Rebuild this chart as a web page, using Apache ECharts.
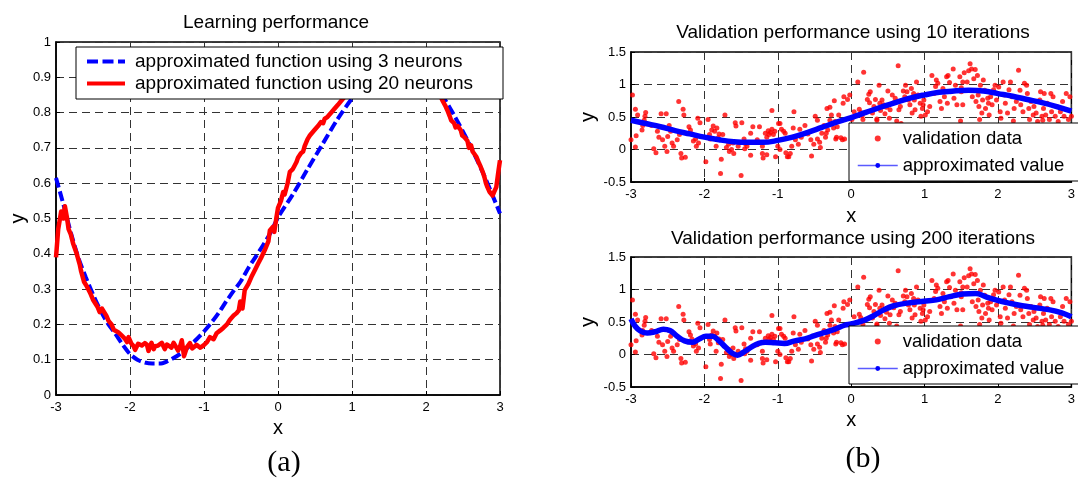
<!DOCTYPE html>
<html><head><meta charset="utf-8">
<script src="https://cdn.jsdelivr.net/npm/echarts@6/dist/echarts.min.js"></script>
<style>html,body{margin:0;padding:0;background:#fff}#c{width:1078px;height:479px}</style>
</head><body><div id="c"></div>
<script>
// ---------- data ----------
const xTicks = [-3, -2, -1, 0, 1, 2, 3];
const titles = ['Learning performance', 'Validation performance using 10 iterations', 'Validation performance using 200 iterations'];
const captions = ['(a)', '(b)'];

// (a) approximated function using 3 neurons
const neurons3X = [-3,-2.9,-2.8,-2.7,-2.6,-2.5,-2.4,-2.3,-2.2,-2.1,-2.0,-1.9,-1.8,-1.7,-1.6,-1.5,-1.4,-1.3,-1.2,-1.1,-1.0,-0.9,-0.8,-0.7,-0.6,-0.5,-0.4,-0.3,-0.2,-0.1,0,0.2,0.4,0.6,0.8,1.0,1.2,1.4,1.6,1.8,2.0,2.2,2.4,2.6,2.8,3.0];
const neurons3Y = [0.615,0.54,0.46,0.39,0.335,0.285,0.24,0.203,0.174,0.143,0.116,0.1,0.092,0.089,0.089,0.095,0.106,0.12,0.138,0.158,0.18,0.205,0.233,0.265,0.295,0.323,0.36,0.392,0.425,0.46,0.503,0.568,0.64,0.71,0.78,0.84,0.89,0.925,0.94,0.935,0.905,0.855,0.785,0.705,0.615,0.514];

// (a) approximated function using 20 neurons
const neurons20X = [-3.00,-2.97,-2.93,-2.90,-2.88,-2.85,-2.83,-2.80,-2.77,-2.72,-2.68,-2.66,-2.64,-2.62,-2.59,-2.54,-2.50,-2.44,-2.41,-2.38,-2.36,-2.32,-2.29,-2.25,-2.22,-2.20,-2.16,-2.11,-2.07,-2.04,-2.02,-1.98,-1.95,-1.93,-1.89,-1.84,-1.80,-1.77,-1.75,-1.71,-1.68,-1.66,-1.62,-1.57,-1.53,-1.50,-1.48,-1.44,-1.41,-1.39,-1.35,-1.32,-1.30,-1.27,-1.23,-1.19,-1.16,-1.14,-1.10,-1.05,-1.01,-0.96,-0.92,-0.87,-0.83,-0.78,-0.74,-0.69,-0.65,-0.60,-0.56,-0.53,-0.51,-0.48,-0.45,-0.40,-0.36,-0.31,-0.27,-0.22,-0.18,-0.13,-0.11,-0.07,-0.05,-0.02,0.00,0.04,0.07,0.09,0.13,0.16,0.18,0.20,0.22,0.25,0.27,0.31,0.34,0.36,0.40,0.43,0.45,0.49,0.54,0.58,0.61,0.63,0.67,0.72,0.76,0.81,0.88,1.0,1.2,1.4,1.6,1.8,2.0,2.15,2.22,2.26,2.29,2.32,2.34,2.38,2.40,2.43,2.47,2.49,2.52,2.56,2.58,2.61,2.63,2.65,2.68,2.70,2.72,2.74,2.77,2.79,2.81,2.83,2.86,2.88,2.90,2.92,2.95,2.97,2.98,3.00];
const neurons20Y = [0.39,0.47,0.52,0.50,0.535,0.50,0.47,0.455,0.43,0.40,0.37,0.35,0.355,0.32,0.31,0.29,0.27,0.25,0.235,0.245,0.24,0.225,0.21,0.20,0.185,0.19,0.178,0.168,0.16,0.15,0.164,0.145,0.138,0.128,0.145,0.14,0.147,0.142,0.125,0.148,0.13,0.138,0.14,0.148,0.13,0.143,0.14,0.134,0.148,0.152,0.126,0.14,0.155,0.11,0.136,0.147,0.132,0.128,0.142,0.134,0.14,0.15,0.164,0.158,0.175,0.183,0.19,0.2,0.213,0.225,0.232,0.24,0.265,0.245,0.297,0.315,0.334,0.355,0.372,0.392,0.41,0.435,0.466,0.476,0.462,0.505,0.53,0.55,0.575,0.568,0.60,0.632,0.627,0.64,0.648,0.66,0.672,0.685,0.69,0.705,0.725,0.735,0.74,0.75,0.762,0.773,0.77,0.782,0.788,0.80,0.81,0.822,0.84,0.87,0.92,0.95,0.96,0.95,0.91,0.87,0.835,0.82,0.806,0.79,0.778,0.77,0.758,0.762,0.75,0.735,0.73,0.72,0.70,0.707,0.69,0.69,0.675,0.67,0.655,0.646,0.63,0.617,0.60,0.589,0.575,0.57,0.565,0.575,0.589,0.62,0.636,0.665];

// (b) validation data (same in both panels)
const validationData = [
[-2.98,0.84],[-2.94,0.62],[-2.91,0.53],[-3.0,0.15],[-2.93,0.21],[-2.94,0.04],[-2.85,0.30],[-2.84,0.37],[-2.82,0.45],[-2.80,0.57],[-2.81,0.51],[-2.69,0.01],[-2.66,-0.05],[-2.72,0.37],[-2.64,0.28],[-2.59,0.55],[-2.52,0.55],[-2.62,0.19],[-2.57,0.15],[-2.54,0.05],[-2.51,-0.03],[-2.48,0.37],[-2.46,0.28],[-2.50,0.20],[-2.44,0.10],[-2.42,0.05],[-2.37,0.15],[-2.35,0.74],[-2.34,0.23],[-2.32,-0.06],[-2.31,-0.13],[-2.29,0.62],[-2.28,0.53],[-2.26,-0.12],[-2.21,0.35],[-2.19,0.30],[-2.17,0.24],[-2.15,0.13],[-2.11,0.05],[-2.09,0.48],[-2.08,0.10],[-2.12,0.16],[-2.06,0.41],[-1.98,-0.19],[-1.95,0.46],[-1.93,0.23],[-1.92,0.16],[-1.90,0.30],[-1.88,0.36],[-1.86,0.28],[-1.83,0.33],[-1.84,0.05],[-1.81,0.18],[-1.80,0.24],[-1.78,-0.37],[-1.77,-0.15],[-1.75,0.23],[-1.72,0.53],[-1.70,0.03],[-1.67,0.08],[-1.66,-0.03],[-1.63,0.0],[-1.61,0.10],[-1.60,-0.06],[-1.58,0.41],[-1.57,0.36],[-1.54,0.05],[-1.50,-0.40],[-1.49,0.41],
[-1.46,0.16],[-1.44,0.09],[-1.42,0.05],[-1.37,0.25],[-1.45,0.01],[-1.37,-0.09],[-1.34,0.35],[-1.28,0.15],[-1.25,0.35],[-1.21,0.05],[-1.21,-0.06],[-1.20,-0.13],[-1.17,0.25],[-1.15,0.19],[-1.13,0.29],[-1.12,0.23],[-1.10,0.26],[-1.08,0.60],[-1.08,0.31],[-1.06,0.23],[-1.04,0.28],[-1.15,-0.08],[-1.03,-0.11],[-0.99,0.40],[-0.97,0.40],[-1.0,0.05],[-0.97,0.0],[-0.95,0.31],[-0.92,0.28],[-0.90,0.25],[-0.89,-0.05],[-0.87,-0.11],[-0.85,-0.11],[-0.83,-0.06],[-0.81,0.05],[-0.79,0.33],[-0.78,0.58],[-0.76,0.15],[-0.72,0.08],[-0.70,0.31],[-0.68,0.19],[-0.63,0.37],[-0.59,0.24],[-0.55,0.15],[-0.54,-0.10],[-0.51,0.08],[-0.49,0.51],[-0.46,0.45],[-0.46,0.16],[-0.43,0.11],[-0.42,0.03],[-0.40,0.25],[-0.37,0.37],[-0.35,0.19],[-0.34,0.25],[-0.33,0.63],[-0.32,0.30],[-0.29,0.65],[-0.29,0.45],[-0.27,0.53],[-0.24,0.33],[-0.23,0.75],[-0.22,0.43],[-0.21,0.16],[-0.20,0.19],[-0.19,0.35],[-0.17,0.53],[-0.14,0.18],[-0.12,0.15],[-0.11,0.71],[-0.10,0.81],[-0.09,0.16],[-0.05,0.77],[-0.02,0.84],
[0.01,0.46],[0.04,0.58],[0.09,1.04],[0.11,0.62],[0.13,0.57],[0.15,0.52],[0.17,1.19],[0.16,0.46],[0.22,0.77],[0.24,0.85],[0.26,0.89],[0.25,0.72],[0.29,0.56],[0.31,0.66],[0.33,0.77],[0.35,0.47],[0.38,0.99],[0.39,0.71],[0.40,0.60],[0.42,0.76],[0.44,0.69],[0.46,0.55],[0.48,0.65],[0.50,0.90],[0.52,0.48],[0.53,0.61],[0.56,0.84],[0.58,0.72],[0.60,0.79],[0.64,1.29],[0.65,0.61],[0.67,0.66],[0.68,0.40],[0.71,0.90],[0.73,0.81],[0.74,0.99],[0.76,0.89],[0.78,0.76],[0.80,0.69],[0.82,0.94],[0.83,0.56],[0.85,0.86],[0.86,0.76],[0.87,0.61],[0.89,1.04],[0.91,0.84],[0.94,0.71],[0.95,0.51],[0.97,0.63],[0.98,0.69],[0.99,0.76],[1.01,0.53],[1.04,0.58],[1.07,0.66],[1.10,1.14],[1.13,0.86],[1.15,0.97],[1.16,1.07],[1.18,1.02],[1.21,0.74],[1.23,0.63],[1.25,0.94],[1.27,0.81],[1.30,1.12],[1.31,0.71],[1.32,1.14],[1.34,1.03],[1.36,0.89],[1.39,1.24],[1.40,0.79],[1.42,0.99],[1.44,0.69],[1.48,1.12],[1.50,0.89],[1.52,1.04],
[1.50,0.95],[1.52,0.69],[1.54,1.18],[1.58,1.04],[1.60,1.21],[1.62,1.32],[1.64,1.24],[1.65,0.81],[1.67,1.09],[1.69,1.23],[1.70,0.74],[1.72,1.14],[1.73,0.84],[1.74,0.66],[1.76,0.99],[1.78,0.56],[1.79,0.76],[1.80,1.07],[1.82,0.91],[1.83,0.63],[1.86,0.79],[1.87,0.71],[1.88,0.53],[1.90,0.81],[1.92,0.69],[1.94,0.92],[1.96,0.99],[1.98,0.76],[2.01,0.96],[2.03,0.58],[2.04,0.48],[2.07,1.04],[2.09,0.84],[2.10,0.71],[2.13,0.56],[2.15,0.92],[2.17,1.04],[2.19,0.81],[2.22,0.63],[2.25,0.74],[2.28,1.22],[2.30,0.91],[2.31,0.69],[2.34,0.58],[2.36,1.02],[2.39,0.99],[2.40,0.86],[2.42,0.63],[2.43,0.46],[2.45,0.74],[2.48,0.53],[2.49,0.66],[2.52,0.56],[2.54,0.43],[2.57,0.76],[2.58,0.89],[2.60,0.51],[2.62,0.63],[2.63,0.86],[2.65,0.53],[2.67,0.71],[2.70,0.46],[2.72,0.86],[2.73,0.58],[2.75,0.81],[2.78,0.51],[2.80,0.66],[2.82,0.43],[2.85,0.58],[2.88,0.74],[2.90,0.51],[2.93,0.86],[2.96,0.46],[2.98,0.81],[3.0,0.51],
[0.35,0.45],[0.62,0.44],[1.49,0.44],[1.75,0.46],[2.21,0.44],[2.61,0.45]
];

// (b) approximated value, 10 iterations
const iter10X = [-3,-2.8,-2.6,-2.4,-2.2,-2.0,-1.8,-1.6,-1.4,-1.2,-1.0,-0.8,-0.6,-0.4,-0.2,0,0.2,0.4,0.6,0.8,1.0,1.2,1.4,1.6,1.8,2.0,2.2,2.4,2.6,2.8,3.0];
const iter10Y = [0.45,0.40,0.35,0.29,0.24,0.19,0.15,0.12,0.11,0.11,0.14,0.19,0.26,0.34,0.42,0.49,0.57,0.65,0.72,0.79,0.84,0.88,0.90,0.91,0.90,0.86,0.82,0.77,0.72,0.66,0.59];

// (b) approximated value, 200 iterations
const iter200X = [-3,-2.94,-2.87,-2.78,-2.67,-2.56,-2.47,-2.38,-2.27,-2.16,-2.07,-1.98,-1.89,-1.80,-1.71,-1.62,-1.55,-1.46,-1.35,-1.26,-1.17,-1.04,-0.91,-0.77,-0.63,-0.50,-0.36,-0.22,-0.09,0,0.18,0.31,0.45,0.58,0.76,0.99,1.16,1.34,1.52,1.70,1.83,1.97,2.15,2.33,2.51,2.69,2.87,3.0];
const iter200Y = [0.55,0.43,0.36,0.33,0.35,0.39,0.37,0.29,0.21,0.19,0.24,0.28,0.28,0.21,0.11,0.02,-0.01,0.04,0.12,0.17,0.19,0.18,0.17,0.21,0.24,0.29,0.34,0.39,0.45,0.47,0.53,0.60,0.69,0.75,0.79,0.82,0.84,0.89,0.93,0.94,0.89,0.84,0.79,0.75,0.72,0.69,0.64,0.58];

// ---------- chart ----------
const FONT = '"Liberation Sans", Arial, sans-serif';
const SERIF = '"Liberation Serif", "Times New Roman", serif';
const zip = (xs, ys) => xs.map((x, i) => [x, ys[i]]);
const GRIDLINE = { color: '#333', type: [8, 5], width: 1 };

function xAxis(gi, gap) {
  return {
    type: 'value', gridIndex: gi, min: xTicks[0], max: xTicks[xTicks.length - 1], interval: 1,
    name: 'x', nameLocation: 'middle', nameGap: gap,
    nameTextStyle: { fontFamily: FONT, fontSize: 20, color: '#000' },
    axisLine: { show: true, onZero: false, lineStyle: { color: '#000', width: 1.5 } },
    axisTick: { show: true, inside: true, length: 4, lineStyle: { color: '#000' } },
    axisLabel: { color: '#000', fontFamily: FONT, fontSize: 13, margin: 6, showMinLabel: true, showMaxLabel: true },
    splitLine: { show: true, lineStyle: GRIDLINE }
  };
}
function yAxis(gi, min, max, interval, gap) {
  return {
    type: 'value', gridIndex: gi, min, max, interval,
    name: 'y', nameLocation: 'middle', nameGap: gap, nameRotate: 90,
    nameTextStyle: { fontFamily: FONT, fontSize: 20, color: '#000' },
    axisLine: { show: true, onZero: false, lineStyle: { color: '#000', width: 1.5 } },
    axisTick: { show: true, inside: true, length: 4, lineStyle: { color: '#000' } },
    axisLabel: { color: '#000', fontFamily: FONT, fontSize: 13, margin: 5, showMinLabel: true, showMaxLabel: true },
    splitLine: { show: true, lineStyle: GRIDLINE }
  };
}
const gridBase = { show: true, borderColor: '#000', borderWidth: 1.5, backgroundColor: '#fff', containLabel: false };
const dashIcon = 'path://M0,0h11v4h-11z M15.5,0h11v4h-11z M31,0h7v4h-7z';

function rightLegend(top) {
  return {
    data: ['validation data', 'approximated value'],
    orient: 'vertical', left: 849, top: top,
    itemWidth: 40, itemHeight: 6, itemGap: 8,
    padding: [6, 40, 6, 8],
    backgroundColor: '#fff', borderColor: '#000', borderWidth: 1, borderRadius: 0,
    lineStyle: { width: 1.5, color: '#5a5aff' },
    textStyle: { fontFamily: FONT, fontSize: 18.5, color: '#000' },
    selectedMode: false
  };
}
function title(text, x, y, size, fam) {
  return { text, left: x, top: y, textAlign: 'center', textVerticalAlign: 'middle', padding: 0,
           textStyle: { fontFamily: fam, fontSize: size, fontWeight: 'normal', color: '#000' } };
}

const option = {
  backgroundColor: '#fff',
  animation: false,
  title: [
    title(titles[0], 276, 23, 19, FONT),
    title(titles[1], 853, 33, 19, FONT),
    title(titles[2], 853, 239, 19, FONT),
    title(captions[0], 284, 463, 30, SERIF),
    title(captions[1], 863, 459, 30, SERIF)
  ],
  grid: [
    Object.assign({ left: 56, top: 42, width: 444, height: 353 }, gridBase),
    Object.assign({ left: 631, top: 52, width: 446, height: 130 }, gridBase),
    Object.assign({ left: 631, top: 257, width: 446, height: 130 }, gridBase)
  ],
  xAxis: [xAxis(0, 12), xAxis(1, 24), xAxis(2, 23)],
  yAxis: [yAxis(0, 0, 1, 0.1, 28), yAxis(1, -0.5, 1.5, 0.5, 33), yAxis(2, -0.5, 1.5, 0.5, 33)],
  legend: [
    {
      data: [
        { name: 'approximated function using 3 neurons', icon: dashIcon },
        { name: 'approximated function using 20 neurons', icon: 'rect' }
      ],
      orient: 'vertical', left: 76, top: 47,
      itemWidth: 38, itemHeight: 4, itemGap: 3,
      padding: [5, 30, 6, 11],
      backgroundColor: '#fff', borderColor: '#000', borderWidth: 1, borderRadius: 0,
      textStyle: { fontFamily: FONT, fontSize: 19, color: '#000', padding: [0, 0, 0, 5] },
      selectedMode: false
    },
    rightLegend(123),
    rightLegend(326)
  ],
  series: [
    { name: 'approximated function using 3 neurons', type: 'line', xAxisIndex: 0, yAxisIndex: 0,
      data: zip(neurons3X, neurons3Y), smooth: 0.3, showSymbol: false, symbol: 'none',
      itemStyle: { color: '#0000ff' }, lineStyle: { color: '#0000ff', width: 4, type: [10, 4] } },
    { name: 'approximated function using 20 neurons', type: 'line', xAxisIndex: 0, yAxisIndex: 0,
      data: zip(neurons20X, neurons20Y), smooth: false, showSymbol: false, symbol: 'none',
      itemStyle: { color: '#ff0000' }, lineStyle: { color: '#ff0000', width: 4.5, join: 'round' } },

    { name: 'validation data', type: 'scatter', xAxisIndex: 1, yAxisIndex: 1,
      data: validationData, symbol: 'circle', symbolSize: 5, itemStyle: { color: '#ff0000' } },
    { name: 'approximated value', type: 'line', xAxisIndex: 1, yAxisIndex: 1,
      data: zip(iter10X, iter10Y), smooth: 0.4, showSymbol: false, symbol: 'circle',
      itemStyle: { color: '#0000ff' }, lineStyle: { color: '#0000ff', width: 5.5 } },

    { name: 'validation data', type: 'scatter', xAxisIndex: 2, yAxisIndex: 2,
      data: validationData, symbol: 'circle', symbolSize: 5, itemStyle: { color: '#ff0000' } },
    { name: 'approximated value', type: 'line', xAxisIndex: 2, yAxisIndex: 2,
      data: zip(iter200X, iter200Y), smooth: 0.4, showSymbol: false, symbol: 'circle',
      itemStyle: { color: '#0000ff' }, lineStyle: { color: '#0000ff', width: 5.5 } }
  ]
};

const chart = echarts.init(document.getElementById('c'), null, { renderer: 'canvas' });
chart.setOption(option);
</script>
</body></html>
